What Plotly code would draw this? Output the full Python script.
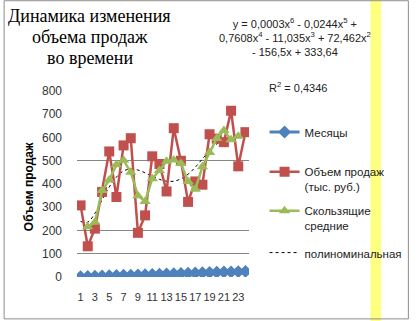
import plotly.graph_objects as go

# ---- data ----
months_x = [1, 2, 3, 4, 5, 6, 7, 8, 9, 10, 11, 12, 13, 14, 15, 16, 17, 18, 19, 20, 21, 22, 23, 24]
months_val = [1, 2, 3, 4, 5, 6, 7, 8, 9, 10, 11, 12, 13, 14, 15, 16, 17, 18, 19, 20, 21, 22, 23, 24]
sales = [308, 132, 208, 366, 540, 344, 566, 597, 190, 265, 519, 486, 368, 640,
         500, 323, 411, 397, 614, 595, 580, 715, 476, 623]
ma_x = [2, 3, 4, 5, 6, 7, 8, 9, 10, 11, 12, 13, 14, 15, 16, 17, 18, 19, 20, 21, 22, 23]
ma_val = [216, 235, 372, 417, 483, 502, 451, 350, 325, 423, 458, 498, 503, 488,
          411, 377, 474, 535, 596, 630, 590, 605]
trend_x = [1, 2, 3, 4, 5, 6, 7, 8, 9, 10, 11, 12, 13, 14, 15, 16, 17, 18, 19, 20, 21, 22, 23]
trend_val = [239, 236, 274, 332, 387, 430, 456, 465, 460, 448, 433, 420, 412, 412,
             422, 442, 472, 508, 543, 572, 590, 597, 595]
x_tick_vals = [1, 3, 5, 7, 9, 11, 13, 15, 17, 19, 21, 23]
y_tick_vals = [0, 100, 200, 300, 400, 500, 600, 700, 800]
grid_vals = [0, 100, 200, 500]

title_lines = ["Динамика изменения", "объема продаж", "во времени"]
equation = "y = 0,0003x<sup>6</sup> - 0,0244x<sup>5</sup> +<br>0,7608x<sup>4</sup> - 11,035x<sup>3</sup> + 72,462x<sup>2</sup><br>- 156,5x + 333,64"
r2_text = "R<sup>2</sup> = 0,4346"
y_title = "Объем продаж"
names = ["Месяцы", "Объем продаж<br>(тыс. руб.)", "Скользящие<br>средние", "полиноминальная"]

# ---- layout geometry (pixels) ----
W, H = 420, 321
L, R, T, B = 77, 254, 91, 277.5


def px(x):
    return (x - L) / (R - L)


def py(y):
    return (B - y) / (B - T)


FONT = "Liberation Sans"
BLUE, RED, GREEN = "#4F81BD", "#C0504D", "#9BBB59"

fig = go.Figure()
fig.add_trace(go.Scatter(x=trend_x, y=trend_val, mode="lines", name=names[3],
                         line=dict(color="black", width=1, dash="dot", shape="spline"),
                         legend="legend4"))
fig.add_trace(go.Scatter(x=months_x, y=sales, mode="lines+markers", name=names[1],
                         line=dict(color=RED, width=2.5),
                         marker=dict(symbol="square", size=10, color=RED),
                         legend="legend2"))
fig.add_trace(go.Scatter(x=ma_x, y=ma_val, mode="lines+markers", name=names[2],
                         line=dict(color=GREEN, width=2.5),
                         marker=dict(symbol="triangle-up", size=10, color=GREEN),
                         legend="legend3"))
fig.add_trace(go.Scatter(x=months_x, y=months_val, mode="lines+markers", name=names[0],
                         line=dict(color=BLUE, width=3),
                         marker=dict(symbol="diamond", size=10, color=BLUE),
                         legend="legend", yaxis="y2"))

leg_common = dict(font=dict(family=FONT, size=11.5, color="#222"), bgcolor="rgba(0,0,0,0)",
                  itemwidth=30, valign="top", xanchor="left", yanchor="top",
                  x=px(270), tracegroupgap=0)

annotations = []
for txt, yc in zip(title_lines, [16, 37, 58]):
    annotations.append(dict(text=txt, x=px(90), y=py(yc), xref="paper", yref="paper",
                            xanchor="center", yanchor="middle", showarrow=False,
                            font=dict(family="Liberation Serif", size=18, color="black")))
annotations.append(dict(text=equation, x=px(301), y=py(37), xref="paper", yref="paper",
                        xanchor="center", yanchor="middle", showarrow=False, align="center",
                        font=dict(family=FONT, size=11, color="#222")))
annotations.append(dict(text=r2_text, x=px(304), y=py(87), xref="paper", yref="paper",
                        xanchor="center", yanchor="middle", showarrow=False,
                        font=dict(family=FONT, size=11, color="#222")))
annotations.append(dict(text="<b>" + y_title + "</b>", x=px(27), y=py(187), xref="paper",
                        yref="paper", xanchor="center", yanchor="middle", showarrow=False,
                        textangle=-90, font=dict(family=FONT, size=12, color="black")))

shapes = [
    dict(type="rect", xref="paper", yref="paper", x0=px(379), x1=px(390), y0=py(H + 2), y1=py(-2),
         fillcolor="#FFFF80", line=dict(width=0), layer="below"),
    dict(type="rect", xref="paper", yref="paper", x0=px(2), x1=px(418), y0=py(319.5), y1=py(0.5),
         line=dict(color="#8C8C8C", width=1), fillcolor="rgba(0,0,0,0)", layer="below"),
]

fig.update_layout(
    width=W, height=H, autosize=False,
    margin=dict(l=L, r=W - R, t=T, b=H - B, pad=0),
    paper_bgcolor="white", plot_bgcolor="rgba(0,0,0,0)",
    showlegend=True,
    legend=dict(**leg_common, y=py(118)),
    legend2=dict(**leg_common, y=py(158)),
    legend3=dict(**leg_common, y=py(197)),
    legend4=dict(**leg_common, y=py(239)),
    xaxis=dict(range=[0.5, 24.5], tickvals=x_tick_vals, showgrid=False, zeroline=False,
               showline=False, ticks="", ticklabelstandoff=12, tickangle=0,
               tickfont=dict(family=FONT, size=11, color="#333")),
    yaxis=dict(range=[0, 800], tickvals=grid_vals, showticklabels=False, showgrid=True,
               gridcolor="#868686", gridwidth=1, zeroline=False, showline=False, ticks=""),
    yaxis2=dict(range=[0, 800], overlaying="y", side="left", tickvals=y_tick_vals,
                showgrid=False, zeroline=False, showline=False, ticks="", ticklabelstandoff=14,
                tickfont=dict(family=FONT, size=12, color="#333")),
    annotations=annotations,
    shapes=shapes,
)

fig.write_html("out.html")
